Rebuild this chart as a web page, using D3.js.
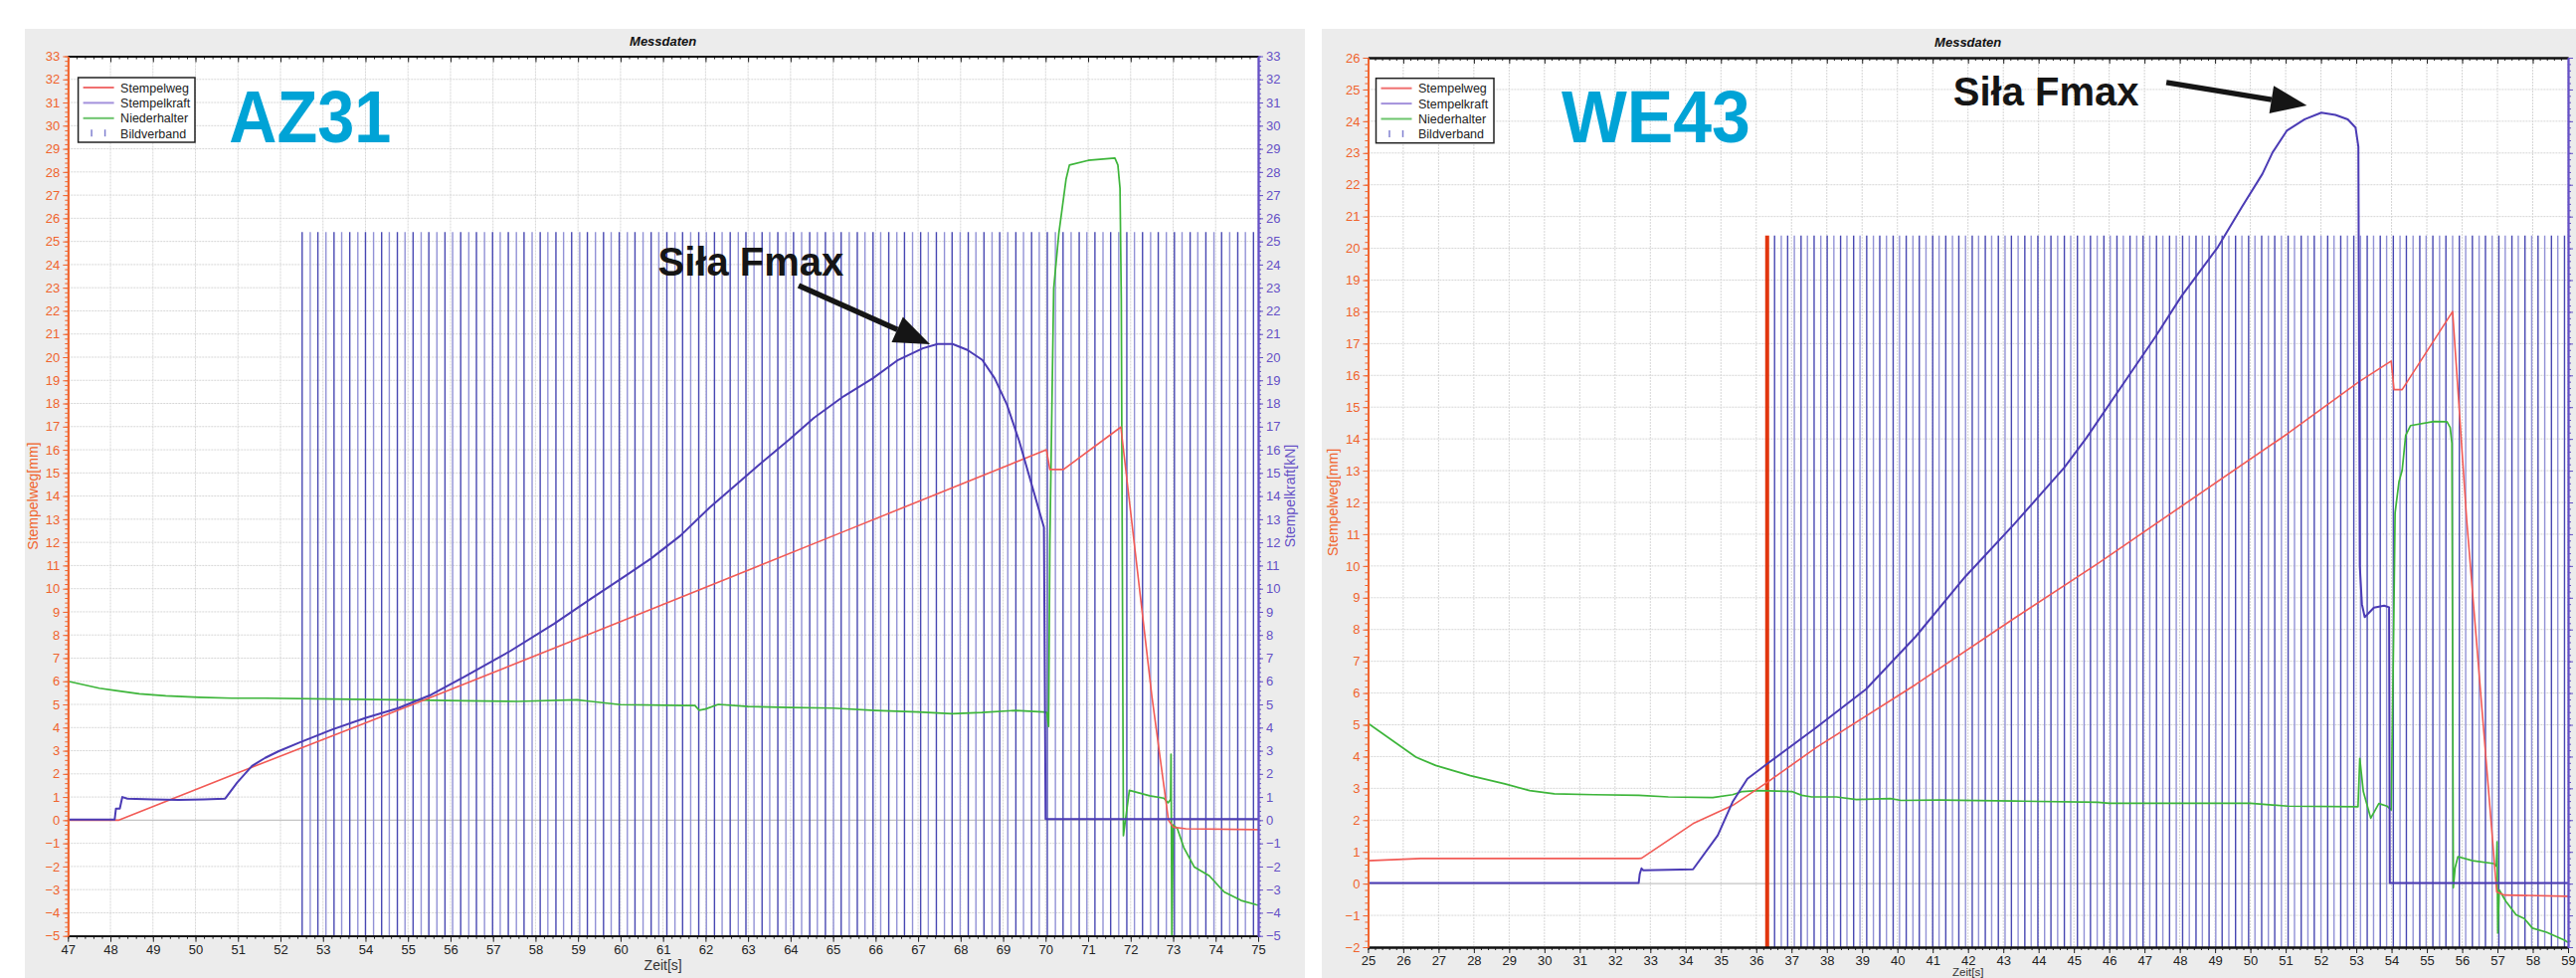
<!DOCTYPE html>
<html>
<head>
<meta charset="utf-8">
<script src="https://cdn.jsdelivr.net/npm/d3@7"></script>
<style>
  body { margin: 0; background: #fff; }
  svg text { font-family: "Liberation Sans", Arial, sans-serif; }
</style>
</head>
<body>
<svg id="chart" width="2590" height="983"></svg>
<script>
// ---------- AZ31 (left) ----------
const az31Stempelweg = [[47,0],[48.2,0],[51,2.05],[55.4,5.2],[59.9,8.5],[65,12.28],[70.02,16.0],[70.1,15.15],[70.42,15.15],[71.77,16.98],[72.5,5.35],[72.89,0],[73.0,-0.3],[73.3,-0.37],[75,-0.41]];
const az31Stempelkraft = [[47,0.03],[48.1,0.03],[48.13,0.5],[48.22,0.5],[48.28,1.0],[48.4,0.93],[49,0.9],[49.6,0.87],[50.2,0.9],[50.7,0.93],[50.98,1.62],[51.33,2.34],[51.64,2.69],[51.96,2.98],[52.43,3.34],[53.21,3.91],[53.99,4.41],[54.77,4.84],[55.55,5.42],[56.33,6.2],[57.4,7.3],[58.44,8.49],[59.31,9.57],[60.13,10.57],[60.71,11.29],[61.41,12.29],[62.1,13.51],[62.69,14.44],[63.27,15.37],[63.97,16.44],[64.55,17.38],[65.25,18.31],[65.94,19.09],[66.53,19.88],[67.11,20.38],[67.46,20.57],[67.81,20.57],[68.16,20.31],[68.51,19.88],[68.8,19.09],[69.09,17.95],[69.38,16.37],[69.67,14.51],[69.96,12.65],[70.0,0.05],[75,0.05]];
const az31Niederhalter = [[47,6.0],[47.74,5.7],[48.13,5.6],[48.68,5.46],[49.3,5.37],[50.08,5.31],[50.86,5.27],[51.64,5.27],[53.21,5.23],[54.77,5.2],[56.33,5.16],[57.58,5.13],[58.97,5.2],[59.2,5.15],[60,4.99],[61.5,4.95],[61.75,4.95],[61.85,4.75],[62.0,4.8],[62.3,5.0],[63,4.91],[64,4.87],[65,4.84],[66,4.74],[67,4.67],[67.8,4.6],[68.5,4.65],[69.3,4.74],[69.95,4.67],[70.03,4.65],[70.07,4.05],[70.1,12],[70.19,22.96],[70.31,25.33],[70.48,27.68],[70.56,28.3],[71.0,28.5],[71.63,28.6],[71.7,28.3],[71.75,27.3],[71.78,22.5],[71.83,-0.67],[71.97,1.29],[72.45,1.05],[72.78,0.95],[72.88,0.75],[72.94,0.9],[72.95,2.85],[72.97,-5],[73.0,-0.2],[73.1,-0.37],[73.25,-1.18],[73.5,-2.03],[73.85,-2.4],[74.2,-3.1],[74.6,-3.47],[74.95,-3.65],[75,-3.67]];
const az31Bildverband = [52.51,52.70,52.88,53.07,53.26,53.44,53.63,53.82,54.00,54.19,54.38,54.56,54.75,54.93,55.12,55.31,55.49,55.68,55.87,56.05,56.24,56.43,56.61,56.80,56.99,57.17,57.36,57.55,57.73,57.92,58.11,58.29,58.48,58.66,58.85,59.04,59.22,59.41,59.60,59.78,59.97,60.16,60.34,60.53,60.72,60.90,61.09,61.28,61.46,61.65,61.84,62.02,62.21,62.39,62.58,62.77,62.95,63.14,63.33,63.51,63.70,63.89,64.07,64.26,64.45,64.63,64.82,65.01,65.19,65.38,65.57,65.75,65.94,66.12,66.31,66.50,66.68,66.87,67.06,67.24,67.43,67.62,67.80,67.99,68.18,68.36,68.55,68.74,68.92,69.11,69.30,69.48,69.67,69.85,70.04,70.23,70.41,70.60,70.79,70.97,71.16,71.35,71.53,71.72,71.91,72.09,72.28,72.47,72.65,72.84,73.03,73.21,73.40,73.58,73.77,73.96,74.14,74.33,74.52,74.70,74.89];
const az31BildTop = 25.4;
const az31Xdomain = [47, 75];
const az31Ydomain = [-5, 33];

// ---------- WE43 (right) ----------
const we43Stempelweg = [[25,0.72],[26.5,0.79],[32.67,0.79],[32.75,0.8],[34.21,1.89],[35.33,2.46],[36.31,3.19],[37.71,4.29],[40.52,6.27],[43.32,8.36],[45.68,10.08],[51.06,14.17],[53.08,15.8],[53.99,16.45],[54.07,15.55],[54.3,15.55],[55.73,18.01],[56.13,11.43],[56.98,-0.26],[57.2,-0.36],[59,-0.4]];
const we43Stempelkraft = [[25,0.02],[32.67,0.02],[32.7,0.3],[32.75,0.48],[32.8,0.42],[34.21,0.45],[34.91,1.52],[35.33,2.57],[35.75,3.3],[36.31,3.77],[37.71,4.92],[39.11,6.12],[40.52,7.78],[41.92,9.66],[43.32,11.33],[44.73,13.1],[45.36,14.04],[46.5,15.9],[47.3,17.2],[48.04,18.48],[49.08,20.04],[49.76,21.3],[50.34,22.34],[50.63,23.02],[51.03,23.7],[51.54,24.06],[52.01,24.27],[52.41,24.2],[52.76,24.06],[52.98,23.8],[53.06,23.2],[53.1,10],[53.16,8.8],[53.24,8.39],[53.5,8.69],[53.79,8.75],[53.93,8.7],[53.95,0.02],[59,0.02]];
const we43Niederhalter = [[25,5.05],[26.36,3.98],[26.92,3.72],[27.9,3.4],[28.88,3.14],[29.58,2.93],[30.28,2.83],[31.4,2.8],[32.67,2.78],[33.51,2.73],[34.77,2.71],[35.33,2.8],[35.61,2.9],[36.03,2.93],[37.01,2.9],[37.29,2.78],[37.57,2.73],[38.27,2.73],[38.84,2.65],[39.8,2.68],[40.1,2.62],[41.2,2.63],[43.32,2.6],[45.68,2.56],[46,2.53],[50,2.53],[51.06,2.44],[53.05,2.42],[53.1,3.94],[53.2,2.9],[53.41,2.06],[53.64,2.52],[53.87,2.44],[53.99,2.32],[54.06,8.0],[54.1,11.67],[54.21,12.65],[54.3,13.01],[54.4,14.11],[54.54,14.42],[55.2,14.55],[55.57,14.54],[55.66,14.36],[55.71,13.87],[55.75,-0.13],[55.8,0.5],[55.88,0.85],[56.3,0.72],[56.9,0.63],[56.97,0.55],[56.99,1.32],[57.01,-1.55],[57.05,-0.2],[57.24,-0.56],[57.53,-0.98],[57.76,-1.1],[57.99,-1.4],[58.39,-1.53],[58.9,-1.78],[59,-1.85]];
const we43FirstFrame = [36.31];
const we43Bildverband = [36.52,36.71,36.89,37.08,37.27,37.45,37.64,37.83,38.01,38.20,38.39,38.57,38.76,38.94,39.13,39.32,39.50,39.69,39.88,40.06,40.25,40.44,40.62,40.81,41.00,41.18,41.37,41.56,41.74,41.93,42.12,42.30,42.49,42.67,42.86,43.05,43.23,43.42,43.61,43.79,43.98,44.17,44.35,44.54,44.73,44.91,45.10,45.29,45.47,45.66,45.85,46.03,46.22,46.40,46.59,46.78,46.96,47.15,47.34,47.52,47.71,47.90,48.08,48.27,48.46,48.64,48.83,49.02,49.20,49.39,49.58,49.76,49.95,50.13,50.32,50.51,50.69,50.88,51.07,51.25,51.44,51.63,51.81,52.00,52.19,52.37,52.56,52.75,52.93,53.12,53.31,53.49,53.68,53.86,54.05,54.24,54.42,54.61,54.80,54.98,55.17,55.36,55.54,55.73,55.92,56.10,56.29,56.48,56.66,56.85,57.04,57.22,57.41,57.59,57.78,57.97,58.15,58.34,58.53,58.71,58.90];
const we43BildTop = 20.4;
const we43Xdomain = [25, 59];
const we43Ydomain = [-2, 26];

const legendNames = ["Stempelweg", "Stempelkraft", "Niederhalter", "Bildverband"];
const chartTitle = "Messdaten";
const xTitle = "Zeit[s]";
const yLeftTitle = "Stempelweg[mm]";
const yRightTitle = "Stempelkraft[kN]";
const fmaxLabel = "Siła Fmax";

const C = {
  weg: "#f25a55", kraft: "#4b3bb5", nieder: "#3db53a",
  frameDark: "#4848b2", frameLight: "#9292d6",
  left: "#f0642e", right: "#6550c6", big: "#00a3d6"
};

const svg = d3.select("#chart");

function drawPanel(p) {
  const x = d3.scaleLinear().domain(p.xDomain).range([p.plot.left, p.plot.right]);
  const y = d3.scaleLinear().domain(p.yDomain).range([p.plot.bottom, p.plot.top]);
  const g = svg.append("g");

  g.append("rect").attr("x", p.bg.x).attr("y", p.bg.y).attr("width", p.bg.w).attr("height", p.bg.h).attr("fill", "#ececec");
  g.append("rect").attr("x", p.plot.left).attr("y", p.plot.top)
    .attr("width", p.plot.right - p.plot.left).attr("height", p.plot.bottom - p.plot.top).attr("fill", "#fff");

  g.append("clipPath").attr("id", p.id + "-clip").append("rect")
    .attr("x", p.plot.left).attr("y", p.plot.top)
    .attr("width", p.plot.right - p.plot.left).attr("height", p.plot.bottom - p.plot.top);
  const plot = g.append("g").attr("clip-path", `url(#${p.id}-clip)`);

  const xInts = d3.range(p.xDomain[0], p.xDomain[1] + 0.001, 1);
  const yInts = d3.range(p.yDomain[0], p.yDomain[1] + 0.001, 1);

  // grid
  plot.selectAll(".vg").data(xInts).join("line")
    .attr("x1", d => x(d)).attr("x2", d => x(d)).attr("y1", p.plot.top).attr("y2", p.plot.bottom)
    .attr("stroke", "#d6d6d6").attr("stroke-dasharray", "2,1");
  plot.selectAll(".hg").data(yInts).join("line")
    .attr("x1", p.plot.left).attr("x2", p.plot.right).attr("y1", d => y(d)).attr("y2", d => y(d))
    .attr("stroke", d => d === 0 ? "#c4c4c4" : "#d6d6d6")
    .attr("stroke-width", d => d === 0 ? 1.3 : 1)
    .attr("stroke-dasharray", d => d === 0 ? null : "2,1");

  // Bildverband frames
  plot.selectAll(".fr").data(p.frames).join("line")
    .attr("x1", d => x(d)).attr("x2", d => x(d))
    .attr("y1", y(p.yDomain[0])).attr("y2", y(p.frameTop))
    .attr("stroke", (d, i) => i % 2 ? C.frameLight : C.frameDark)
    .attr("stroke-width", 1.4);
  if (p.firstFrame) {
    plot.selectAll(".ff").data(p.firstFrame).join("line")
      .attr("x1", d => x(d)).attr("x2", d => x(d))
      .attr("y1", y(p.yDomain[0])).attr("y2", y(p.frameTop))
      .attr("stroke", "#e2360f").attr("stroke-width", 4);
  }

  const line = d3.line().x(d => x(d[0])).y(d => y(d[1]));
  [[p.nieder, C.nieder, 1.7], [p.weg, C.weg, 1.6], [p.kraft, C.kraft, 2]].forEach(s => {
    plot.append("path").datum(s[0]).attr("d", line)
      .attr("fill", "none").attr("stroke", s[1]).attr("stroke-width", s[2]).attr("stroke-linejoin", "round");
  });

  // axes
  const tickFont = '"Liberation Sans Narrow", "Liberation Sans", Arial, sans-serif';
  const xMinor = d3.range(p.xDomain[0], p.xDomain[1] + 0.001, 0.2);
  const yMinor = d3.range(p.yDomain[0], p.yDomain[1] + 0.001, 0.2);

  function styleAxis(sel, color, lineColor) {
    sel.attr("font-family", tickFont).attr("font-size", 13);
    sel.select(".domain").attr("stroke", lineColor).attr("stroke-width", 1.8);
    sel.selectAll(".tick line").attr("stroke", color);
    sel.selectAll(".tick text").attr("fill", color);
  }

  g.append("g").attr("transform", `translate(0,${p.plot.bottom})`)
    .call(d3.axisBottom(x).tickValues(xMinor).tickSize(3).tickFormat("").tickSizeOuter(0))
    .call(s => styleAxis(s, "#222", "#111"));
  g.append("g").attr("transform", `translate(0,${p.plot.bottom})`)
    .call(d3.axisBottom(x).tickValues(xInts).tickSize(6).tickPadding(3).tickFormat(d3.format("d")).tickSizeOuter(0))
    .call(s => styleAxis(s, "#222", "#111"));
  g.append("g").attr("transform", `translate(0,${p.plot.top})`)
    .call(d3.axisBottom(x).tickValues(xMinor).tickSize(3).tickFormat("").tickSizeOuter(0))
    .call(s => styleAxis(s, "#222", "#111"));
  g.append("g").attr("transform", `translate(0,${p.plot.top})`)
    .call(d3.axisBottom(x).tickValues(xInts).tickSize(6).tickFormat("").tickSizeOuter(0))
    .call(s => styleAxis(s, "#222", "#111"));

  g.append("g").attr("transform", `translate(${p.plot.left},0)`)
    .call(d3.axisLeft(y).tickValues(yMinor).tickSize(3).tickFormat("").tickSizeOuter(0))
    .call(s => styleAxis(s, C.left, C.left));
  g.append("g").attr("transform", `translate(${p.plot.left},0)`)
    .call(d3.axisLeft(y).tickValues(yInts).tickSize(5).tickPadding(3).tickFormat(d3.format("d")).tickSizeOuter(0))
    .call(s => styleAxis(s, C.left, C.left));
  g.append("g").attr("transform", `translate(${p.plot.right},0)`)
    .call(d3.axisRight(y).tickValues(yMinor).tickSize(3).tickFormat("").tickSizeOuter(0))
    .call(s => styleAxis(s, C.right, C.right));
  // the right panel's right-hand labels fall beyond the picture edge, as in the reference
  g.append("g").attr("transform", `translate(${p.plot.right},0)`)
    .call(d3.axisRight(y).tickValues(yInts).tickSize(5).tickPadding(3)
      .tickFormat(p.rightLabels ? d3.format("d") : "").tickSizeOuter(0))
    .call(s => styleAxis(s, C.right, C.right));

  // titles
  const cx = (p.plot.left + p.plot.right) / 2;
  const cy = (p.plot.top + p.plot.bottom) / 2;
  g.append("text").attr("x", cx).attr("y", p.plot.top - 11).attr("text-anchor", "middle")
    .attr("font-size", 13).attr("font-weight", "bold").attr("font-style", "italic").attr("fill", "#111")
    .text(chartTitle);
  g.append("text").attr("x", cx).attr("y", Math.min(p.plot.bottom + 34, 980.5)).attr("text-anchor", "middle")
    .attr("font-size", p.plot.bottom + 34 > 981 ? 11.5 : 14).attr("fill", "#333").text(xTitle);
  g.append("text").attr("transform", `translate(${p.plot.left - 30},${cy}) rotate(-90)`)
    .attr("text-anchor", "middle").attr("font-size", 14).attr("fill", C.left).text(yLeftTitle);
  if (p.rightLabels) {
    g.append("text").attr("transform", `translate(${p.plot.right + 37},${cy}) rotate(-90)`)
      .attr("text-anchor", "middle").attr("font-size", 14).attr("fill", C.right).text(yRightTitle);
  }

  // legend
  const lg = g.append("g").attr("transform", `translate(${p.legend.x},${p.legend.y})`);
  lg.append("rect").attr("width", p.legend.w).attr("height", 65).attr("fill", "#fff")
    .attr("stroke", "#222").attr("stroke-width", 1.5);
  const swatch = ["#f07070", "#a391dc", "#6cc46c"];
  legendNames.forEach((name, i) => {
    const yy = 10 + i * 15.4;
    if (i < 3) {
      lg.append("line").attr("x1", 5).attr("x2", 36).attr("y1", yy).attr("y2", yy)
        .attr("stroke", swatch[i]).attr("stroke-width", 2);
    } else {
      [13.5, 27].forEach(xx => lg.append("line").attr("x1", xx).attr("x2", xx)
        .attr("y1", yy - 4).attr("y2", yy + 3).attr("stroke", "#8080d0").attr("stroke-width", 1.5));
    }
    lg.append("text").attr("x", 42.5).attr("y", yy + 4.5).attr("font-size", 12.5).attr("fill", "#222").text(name);
  });

  // big material label
  g.append("text").attr("x", x(p.big.at[0])).attr("y", y(p.big.at[1]))
    .attr("font-size", 74).attr("font-weight", "bold").attr("fill", C.big)
    .attr("textLength", p.big.len).attr("lengthAdjust", "spacingAndGlyphs").text(p.big.text);

  // Fmax annotation
  const a = p.arrow;
  g.append("text").attr("x", x(a.text[0])).attr("y", y(a.text[1]))
    .attr("font-size", 40).attr("font-weight", "bold").attr("fill", "#151515").text(fmaxLabel);
  const x0 = x(a.from[0]), y0 = y(a.from[1]), x1 = x(a.to[0]), y1 = y(a.to[1]);
  const ang = Math.atan2(y1 - y0, x1 - x0);
  const hl = 36, hw = 14;
  const bx = x1 - hl * Math.cos(ang), by = y1 - hl * Math.sin(ang);
  g.append("line").attr("x1", x0).attr("y1", y0).attr("x2", bx).attr("y2", by)
    .attr("stroke", "#151515").attr("stroke-width", 5.5);
  g.append("path").attr("fill", "#151515").attr("d", d3.line()([
    [x1, y1],
    [bx + hw * Math.sin(ang), by - hw * Math.cos(ang)],
    [bx - hw * Math.sin(ang), by + hw * Math.cos(ang)]
  ]));
}

drawPanel({
  id: "az31",
  bg: { x: 25, y: 29, w: 1287, h: 954 },
  plot: { left: 68.3, right: 1265, top: 56.5, bottom: 940.7 },
  xDomain: az31Xdomain, yDomain: az31Ydomain,
  weg: az31Stempelweg, kraft: az31Stempelkraft, nieder: az31Niederhalter,
  frames: az31Bildverband, frameTop: az31BildTop, rightLabels: true,
  legend: { x: 78.6, y: 78, w: 117.4 },
  big: { text: "AZ31", at: [50.79, 29.28], len: 163 },
  arrow: { text: [60.88, 23.53], from: [64.19, 23.09], to: [67.28, 20.56] }
});

drawPanel({
  id: "we43",
  bg: { x: 1329, y: 29, w: 1261, h: 954 },
  plot: { left: 1375.4, right: 2582, top: 58, bottom: 952 },
  xDomain: we43Xdomain, yDomain: we43Ydomain,
  weg: we43Stempelweg, kraft: we43Stempelkraft, nieder: we43Niederhalter,
  frames: we43Bildverband, firstFrame: we43FirstFrame, frameTop: we43BildTop, rightLabels: false,
  legend: { x: 1383.5, y: 78.7, w: 118.5 },
  big: { text: "WE43", at: [30.48, 23.34], len: 190 },
  arrow: { text: [41.58, 24.5], from: [47.62, 25.22], to: [51.6, 24.5] }
});
</script>
</body>
</html>
